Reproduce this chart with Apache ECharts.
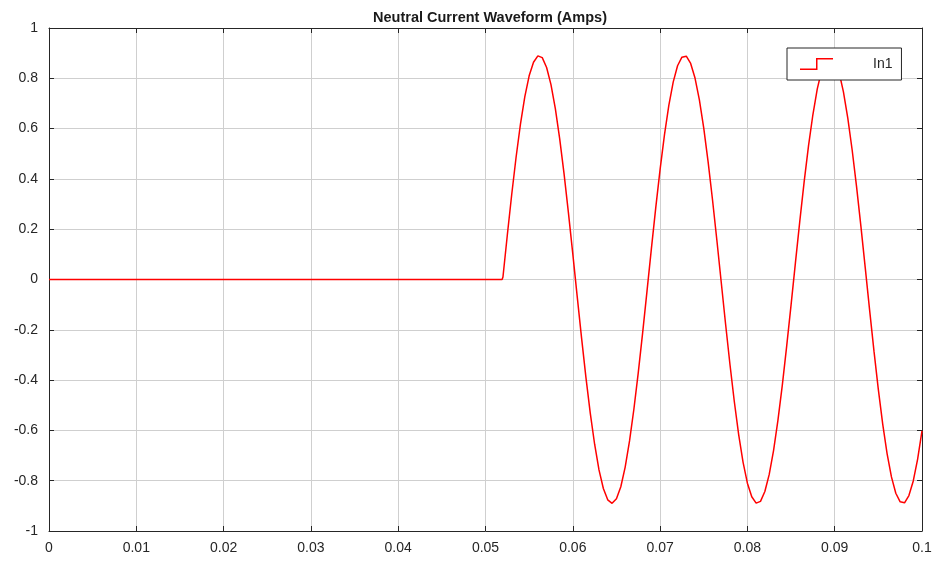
<!DOCTYPE html>
<html>
<head>
<meta charset="utf-8">
<script src="https://cdn.jsdelivr.net/npm/echarts@6/dist/echarts.min.js"></script>
<style>
html,body{margin:0;padding:0;background:#fff;}
#chart{width:938px;height:564px;}
</style>
</head>
<body>
<div id="chart"></div>
<script>
// Time (s) of each sample
var timeValues = [
  0, 0.0519,
  0.0520, 0.0525, 0.0530, 0.0535, 0.0540, 0.0545, 0.0550, 0.0555, 0.0560, 0.0565,
  0.0570, 0.0575, 0.0580, 0.0585, 0.0590, 0.0595, 0.0600, 0.0605, 0.0610, 0.0615,
  0.0620, 0.0625, 0.0630, 0.0635, 0.0640, 0.0645, 0.0650, 0.0655, 0.0660, 0.0665,
  0.0670, 0.0675, 0.0680, 0.0685, 0.0690, 0.0695, 0.0700, 0.0705, 0.0710, 0.0715,
  0.0720, 0.0725, 0.0730, 0.0735, 0.0740, 0.0745, 0.0750, 0.0755, 0.0760, 0.0765,
  0.0770, 0.0775, 0.0780, 0.0785, 0.0790, 0.0795, 0.0800, 0.0805, 0.0810, 0.0815,
  0.0820, 0.0825, 0.0830, 0.0835, 0.0840, 0.0845, 0.0850, 0.0855, 0.0860, 0.0865,
  0.0870, 0.0875, 0.0880, 0.0885, 0.0890, 0.0895, 0.0900, 0.0905, 0.0910, 0.0915,
  0.0920, 0.0925, 0.0930, 0.0935, 0.0940, 0.0945, 0.0950, 0.0955, 0.0960, 0.0965,
  0.0970, 0.0975, 0.0980, 0.0985, 0.0990, 0.0995, 0.1000
];
// Neutral current In1 (A)
var in1Values = [
  0, 0,
  0.010, 0.177, 0.337, 0.485, 0.617, 0.726, 0.810, 0.864, 0.889, 0.882,
  0.843, 0.775, 0.679, 0.559, 0.420, 0.265, 0.102, -0.066, -0.231, -0.388,
  -0.531, -0.655, -0.757, -0.831, -0.876, -0.890, -0.872, -0.824, -0.746, -0.642,
  -0.515, -0.370, -0.212, -0.046, 0.122, 0.285, 0.438, 0.575, 0.692, 0.785,
  0.850, 0.884, 0.888, 0.859, 0.801, 0.714, 0.602, 0.468, 0.318, 0.157,
  -0.010, -0.177, -0.337, -0.485, -0.617, -0.726, -0.810, -0.864, -0.889, -0.882,
  -0.843, -0.775, -0.679, -0.559, -0.420, -0.265, -0.102, 0.066, 0.231, 0.388,
  0.531, 0.655, 0.757, 0.831, 0.876, 0.890, 0.872, 0.824, 0.746, 0.642,
  0.515, 0.370, 0.212, 0.046, -0.122, -0.285, -0.438, -0.575, -0.692, -0.785,
  -0.850, -0.884, -0.888, -0.859, -0.801, -0.714, -0.602
];
var xTicks = [0, 0.01, 0.02, 0.03, 0.04, 0.05, 0.06, 0.07, 0.08, 0.09, 0.1];
var yTicks = [-1, -0.8, -0.6, -0.4, -0.2, 0, 0.2, 0.4, 0.6, 0.8, 1];
var seriesName = 'In1';
var titleText = 'Neutral Current Waveform (Amps)';

var points = timeValues.map(function (t, i) { return [t, in1Values[i]]; });
function fmt(v) { return String(parseFloat(v.toFixed(3))); }

var FONT = 'Liberation Sans, Arial, Helvetica, sans-serif';
var gridLine = { show: true, lineStyle: { color: '#cfcfcf', width: 1 } };
var blackLine = { show: true, onZero: false, lineStyle: { color: '#262626', width: 1 } };
var inTick = { show: true, inside: true, length: 5, lineStyle: { color: '#262626' } };

var chart = echarts.init(document.getElementById('chart'), null, { renderer: 'canvas' });
chart.setOption({
  animation: false,
  backgroundColor: '#ffffff',
  title: {
    text: titleText,
    left: 485,
    textAlign: 'center',
    top: 5,
    textStyle: { fontFamily: FONT, fontSize: 14.5, fontWeight: 'bold', color: '#1a1a1a' }
  },
  legend: {
    left: 787,
    top: 48,
    orient: 'vertical',
    padding: [9, 9, 9, 13],
    backgroundColor: '#ffffff',
    borderColor: '#262626',
    borderWidth: 1,
    borderRadius: 0,
    itemWidth: 33,
    itemHeight: 12,
    icon: 'path://M0,10.5 L16,10.5 L16,0 L33,0 L33,1.5 L17.5,1.5 L17.5,12 L0,12 Z',
    textStyle: { fontFamily: FONT, fontSize: 14, color: '#262626', padding: [0, 0, 0, 35] },
    data: [seriesName]
  },
  grid: { left: 49, right: 16, top: 28, bottom: 33, containLabel: false },
  xAxis: [{
    type: 'value', min: xTicks[0], max: xTicks[xTicks.length - 1], interval: 0.01,
    axisLine: blackLine, axisTick: inTick, splitLine: gridLine,
    axisLabel: { formatter: fmt, fontFamily: FONT, fontSize: 14, color: '#262626', margin: 10 }
  }, {
    type: 'value', position: 'top', min: xTicks[0], max: xTicks[xTicks.length - 1], interval: 0.01,
    axisLine: blackLine, axisTick: inTick, splitLine: { show: false }, axisLabel: { show: false }
  }],
  yAxis: [{
    type: 'value', min: yTicks[0], max: yTicks[yTicks.length - 1], interval: 0.2,
    axisLine: blackLine, axisTick: inTick, splitLine: gridLine,
    axisLabel: { formatter: fmt, fontFamily: FONT, fontSize: 14, color: '#262626', margin: 11 }
  }, {
    type: 'value', position: 'right', min: yTicks[0], max: yTicks[yTicks.length - 1], interval: 0.2,
    axisLine: blackLine, axisTick: inTick, splitLine: { show: false }, axisLabel: { show: false }
  }],
  series: [{
    name: seriesName,
    type: 'line',
    xAxisIndex: 0,
    yAxisIndex: 0,
    data: points,
    showSymbol: false,
    symbol: 'none',
    color: '#ff0000',
    lineStyle: { color: '#ff0000', width: 1.5 }
  }]
});
</script>
</body>
</html>
